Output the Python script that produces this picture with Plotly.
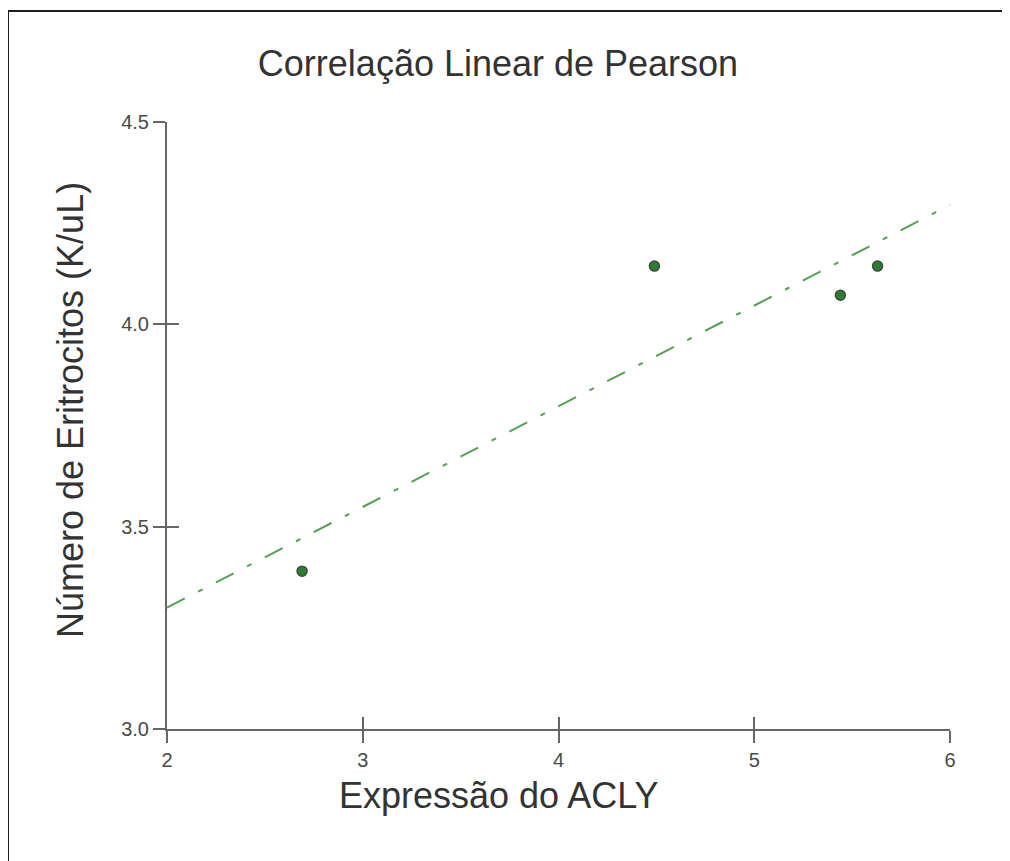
import numpy as np
import plotly.graph_objects as go

# Data
acly_expr = [2.69, 4.49, 5.44, 5.63]
eritrocitos = [3.39, 4.144, 4.072, 4.144]

x_ticks = [2, 3, 4, 5, 6]
y_ticks = [3.0, 3.5, 4.0, 4.5]
x_range = [2, 6]
y_range = [3.0, 4.5]

title_text = "Correlação Linear de Pearson"
x_title = "Expressão do ACLY"
y_title = "Número de Eritrocitos (K/uL)"

# Linear (least squares) fit
slope, intercept = np.polyfit(acly_expr, eritrocitos, 1)
fit_x = np.array(x_range, dtype=float)
fit_y = slope * fit_x + intercept

FONT = "Liberation Sans, Arial, sans-serif"

W, H = 1002, 853
L, T = 159, 114
PW, PH = 783, 607
R = W - L - PW
B = H - T - PH
AX_BOTTOM = T + PH


def px(xf):
    return (xf - L) / PW


def py(yf):
    return (AX_BOTTOM - yf) / PH


fig = go.Figure()
fig.add_trace(go.Scatter(
    x=fit_x, y=fit_y, mode="lines",
    line=dict(color="#55a055", width=2, dash="20px,15px,5px,15px"),
    hoverinfo="skip", showlegend=False,
))
fig.add_trace(go.Scatter(
    x=acly_expr, y=eritrocitos, mode="markers",
    marker=dict(symbol="circle", size=10, color="#2f7d32",
                line=dict(color="#3d4a3d", width=1.5)),
    showlegend=False,
))
# invisible trace to activate inside-tick overlay axes
fig.add_trace(go.Scatter(x=[None], y=[None], xaxis="x2", yaxis="y2",
                         showlegend=False, hoverinfo="skip"))

axis_common = dict(showgrid=False, zeroline=False, showline=True,
                   linecolor="#666666", linewidth=2,
                   ticks="outside", ticklen=12, tickwidth=2, tickcolor="#666666",
                   tickfont=dict(family=FONT, size=20, color="#4a4a4a"))

title_font = dict(family=FONT, size=36, color="#333333")

fig.update_layout(
    width=W, height=H,
    paper_bgcolor="white", plot_bgcolor="white",
    margin=dict(l=L, r=R, t=T, b=B),
    title=dict(text=title_text, xref="container", x=490 / W, xanchor="center",
               yref="container", y=1 - 55 / H, yanchor="middle",
               font=title_font),
    xaxis=dict(range=x_range, tickvals=x_ticks, **axis_common),
    yaxis=dict(range=y_range, tickvals=y_ticks, tickformat=".1f", **axis_common),
    xaxis2=dict(range=x_range, tickvals=x_ticks, overlaying="x", anchor="y",
                side="bottom", showgrid=False, zeroline=False, showline=False,
                showticklabels=False, ticks="inside", ticklen=12, tickwidth=2,
                tickcolor="#666666"),
    yaxis2=dict(range=y_range, tickvals=y_ticks, overlaying="y", anchor="x",
                side="left", showgrid=False, zeroline=False, showline=False,
                showticklabels=False, ticks="inside", ticklen=12, tickwidth=2,
                tickcolor="#666666"),
    annotations=[
        dict(text=x_title, xref="paper", yref="paper", x=px(491), y=py(787),
             xanchor="center", yanchor="middle", showarrow=False, font=title_font),
        dict(text=y_title, xref="paper", yref="paper", x=px(62), y=py(402),
             xanchor="center", yanchor="middle", showarrow=False, textangle=-90,
             font=title_font),
    ],
    shapes=[dict(type="rect", xref="paper", yref="paper",
                 x0=px(0), x1=px(W + 20),
                 y0=py(H + 20), y1=py(3),
                 line=dict(color="#1e1e1e", width=2), fillcolor="rgba(0,0,0,0)",
                 layer="below")],
)

fig.write_html("out.html")
